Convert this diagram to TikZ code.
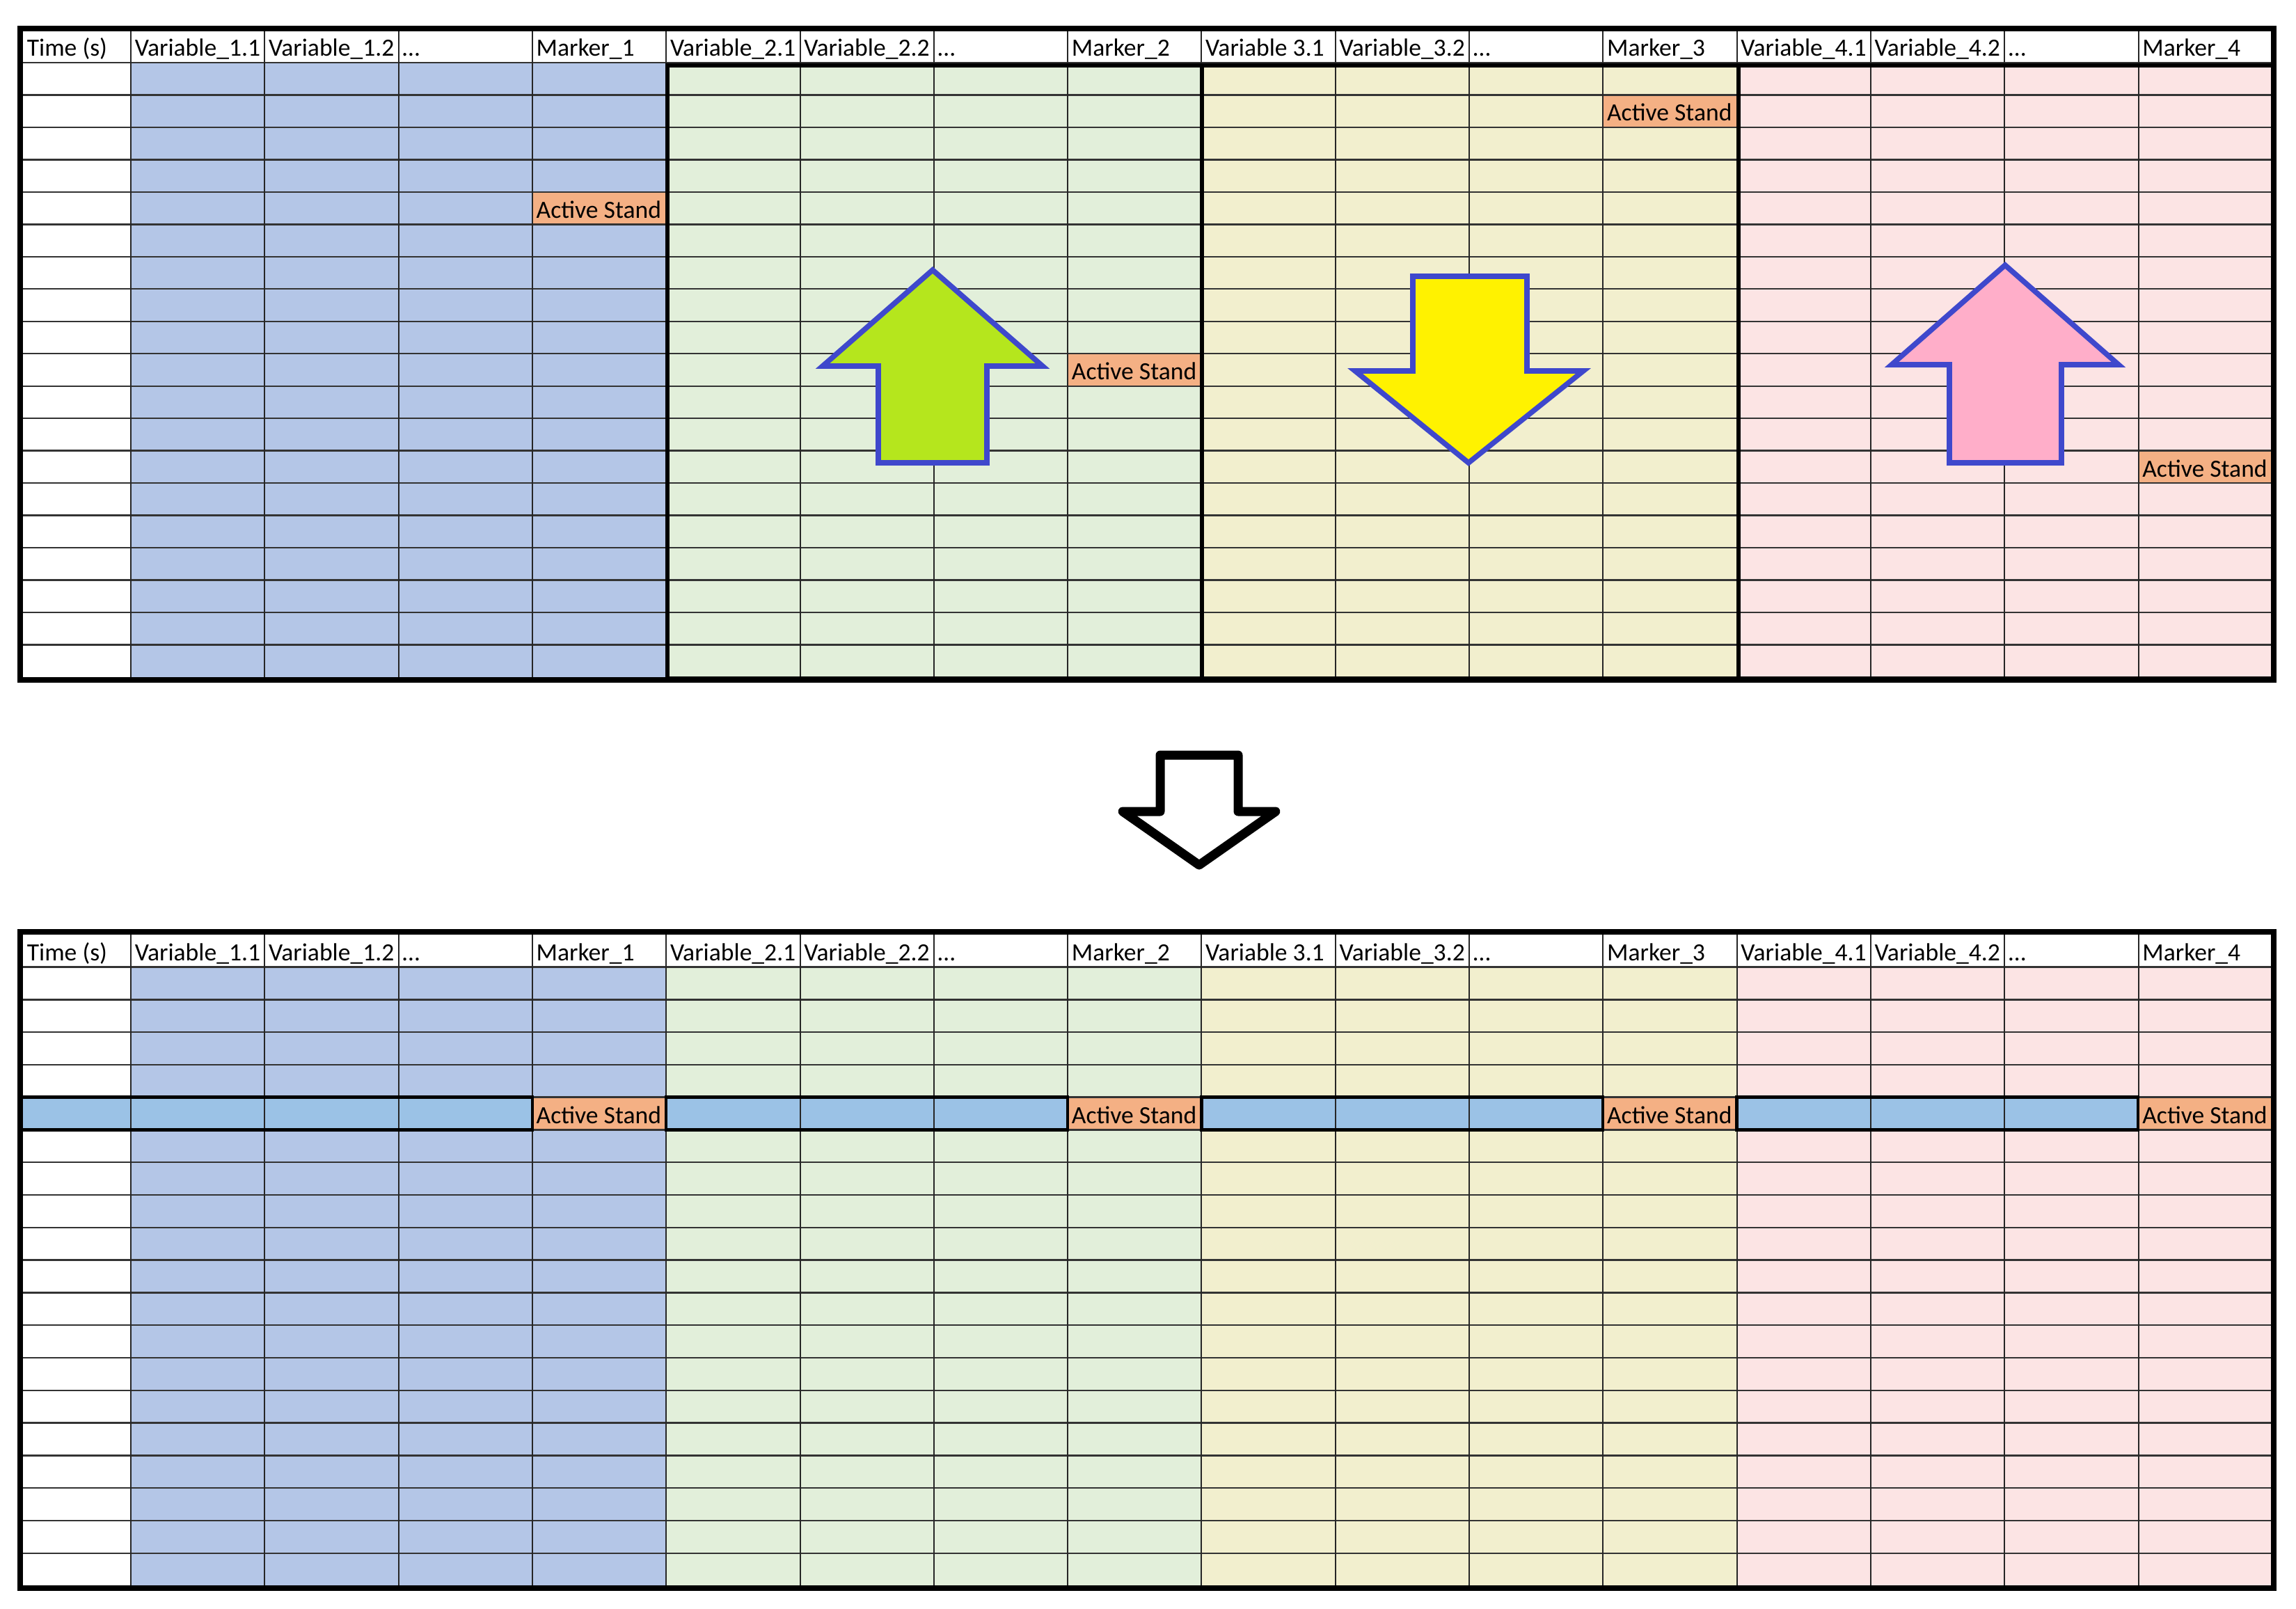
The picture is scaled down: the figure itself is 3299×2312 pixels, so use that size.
\documentclass[tikz,border=0pt]{standalone}
\usepackage{fontspec}
\setmainfont{Carlito}
\definecolor{cblue}{HTML}{B4C6E7}
\definecolor{cgreen}{HTML}{E2EFDA}
\definecolor{cyellow}{HTML}{F2EFCE}
\definecolor{cpink}{HTML}{FCE4E4}
\definecolor{corange}{HTML}{F4B084}
\definecolor{chigh}{HTML}{9BC2E6}
\definecolor{arrowblue}{HTML}{3F48CC}
\definecolor{alime}{HTML}{B5E61D}
\definecolor{ayellow}{HTML}{FFF200}
\definecolor{apink}{HTML}{FFAEC9}
\tikzset{
  hline/.style={draw=black!80,line width=0.6pt},
  vline/.style={draw=black!85,line width=0.5pt},
  outerframe/.style={draw=black,line width=2pt},
  groupframe/.style={draw=black,line width=1.5pt},
  hdr/.style={anchor=base west,inner sep=0pt,font=\fontsize{8.9pt}{10pt}\selectfont},
  astext/.style={anchor=base west,inner sep=0pt,font=\fontsize{8.9pt}{10pt}\selectfont},
  bigarrow/.style={draw=arrowblue,line width=1.9pt,line join=miter},
  midarrow/.style={draw=black,fill=white,line width=3.25pt,line join=round},
  highseg/.style={draw=black,line width=1.1pt}
}
% #1 prefix, #2 outer top, #3 header bottom, #4 row height, #5 outer bottom
\newcommand{\drawsheet}[5]{%
  \foreach \g/\cc in {1/cblue,2/cgreen,3/cyellow,4/cpink}{
    \fill[\cc] ({188+192.3*(4*\g-4)},#3) rectangle ({188+192.3*(4*\g)},{#3+19*#4});
  }
}
\newcommand{\drawgrid}[5]{%
  \foreach \k in {0,...,18}{
    \draw[hline] (29,{#3+\k*#4}) -- (3267,{#3+\k*#4});
  }
  \foreach \j in {0,...,15}{
    \draw[vline] ({188+192.3*\j},{#2+4}) -- ({188+192.3*\j},{#3+19*#4});
  }
  \node[hdr] (#1time) at (38,{#3-9}) {Time (s)};
  \foreach \j/\t in {1/Variable\_1.1,2/Variable\_1.2,3/…,4/Marker\_1,5/Variable\_2.1,6/Variable\_2.2,7/…,8/Marker\_2,9/Variable 3.1,10/Variable\_3.2,11/…,12/Marker\_3,13/Variable\_4.1,14/Variable\_4.2,15/…,16/Marker\_4}{
    \node[hdr] (#1h\j) at ({188+192.3*(\j-1)+5},{#3-9}) {\t};
  }
}
\newcommand{\activecell}[5]{% #1 name, #2 group, #3 header bottom, #4 row height, #5 row
  \fill[corange] ({188+192.3*(4*#2-1)},{#3+(#5-1)*#4}) rectangle ({188+192.3*(4*#2)},{#3+#5*#4});
}
\newcommand{\activetext}[5]{%
  \node[astext] (#1) at ({188+192.3*(4*#2-1)+5},{#3+#5*#4-9}) {Active Stand};
}
\begin{document}
\begin{tikzpicture}[x=0.25pt,y=-0.25pt]
\useasboundingbox (0,0) rectangle (3299,2312);
\fill[white] (0,0) rectangle (3299,2312);

% ---------------- top sheet ----------------
\drawsheet{t}{41}{90}{46.47}{977}
\activecell{tas1}{1}{90}{46.47}{5}
\activecell{tas2}{2}{90}{46.47}{10}
\activecell{tas3}{3}{90}{46.47}{2}
\activecell{tas4}{4}{90}{46.47}{13}
\drawgrid{t}{41}{90}{46.47}{977}
\activetext{tas1}{1}{90}{46.47}{5}
\activetext{tas2}{2}{90}{46.47}{10}
\activetext{tas3}{3}{90}{46.47}{2}
\activetext{tas4}{4}{90}{46.47}{13}
\draw[groupframe] (959,94) rectangle (1727,975);
\draw[groupframe] (1727,94) rectangle (2498,975);
\draw[groupframe] (2498,94) rectangle (3267,975);
\draw[outerframe] (29,41) rectangle (3267,977);

% arrows in top sheet
\draw[bigarrow,fill=alime] (1340,388) -- (1498,526) -- (1418,526) -- (1418,665) -- (1262,665) -- (1262,526) -- (1182,526) -- cycle;
\draw[bigarrow,fill=ayellow] (2030,397) -- (2194,397) -- (2194,533) -- (2275,533) -- (2110,665) -- (1947,533) -- (2030,533) -- cycle;
\draw[bigarrow,fill=apink] (2881,381) -- (3044,524) -- (2962,524) -- (2962,665) -- (2801,665) -- (2801,524) -- (2718,524) -- cycle;

% middle arrow
\draw[midarrow] (1667,1085) -- (1779,1085) -- (1779,1166) -- (1833,1166) -- (1723,1243) -- (1613,1166) -- (1667,1166) -- cycle;

% ---------------- bottom sheet ----------------
\drawsheet{b}{1339}{1389.5}{46.79}{2282}
\fill[chigh] (29,{1389.5+4*46.79}) rectangle (3267,{1389.5+5*46.79});
\activecell{bas1}{1}{1389.5}{46.79}{5}
\activecell{bas2}{2}{1389.5}{46.79}{5}
\activecell{bas3}{3}{1389.5}{46.79}{5}
\activecell{bas4}{4}{1389.5}{46.79}{5}
\drawgrid{b}{1339}{1389.5}{46.79}{2282}
\foreach \xa/\xb in {29/764.9,957.2/1533.8,1726.4/2302.9,2495.6/3072.1}{
  \draw[highseg] (\xa,{1389.5+4*46.79}) rectangle (\xb,{1389.5+5*46.79});
}
\activetext{bas1}{1}{1389.5}{46.79}{5}
\activetext{bas2}{2}{1389.5}{46.79}{5}
\activetext{bas3}{3}{1389.5}{46.79}{5}
\activetext{bas4}{4}{1389.5}{46.79}{5}
\draw[outerframe] (29,1339) rectangle (3267,2282);
\end{tikzpicture}
\end{document}
